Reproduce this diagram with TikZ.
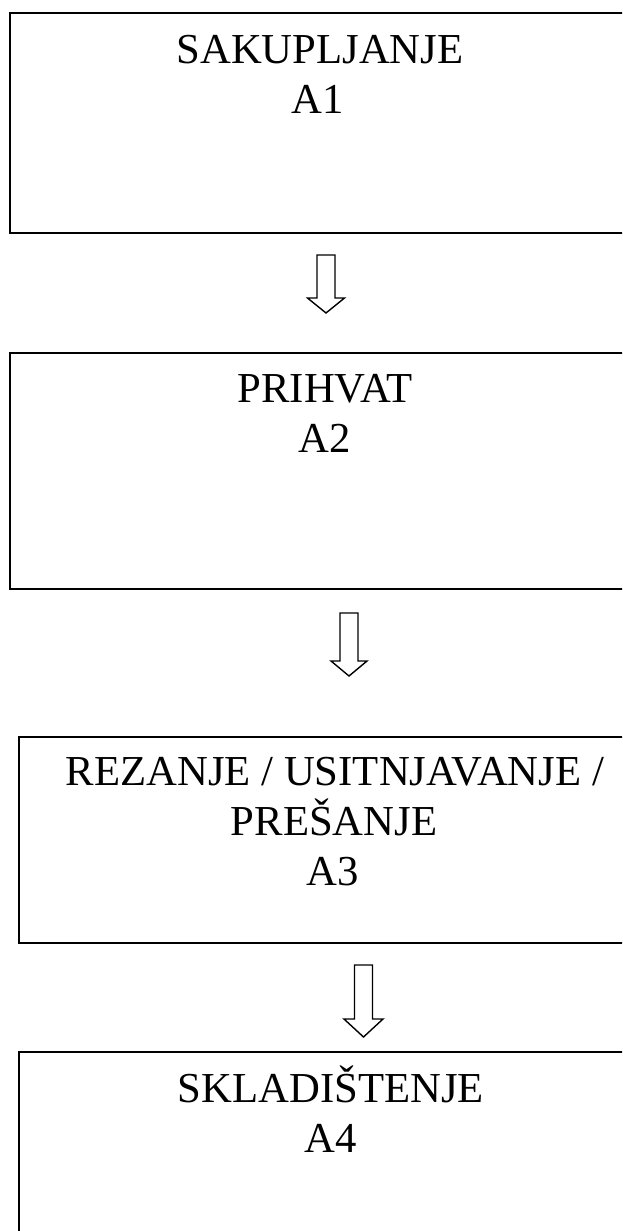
\documentclass[tikz,border=0pt]{standalone}
\usepackage{fontspec}
\setmainfont{Liberation Serif}
\begin{document}
\begin{tikzpicture}[
  x=0.5pt, y=-0.5pt,
  stagebox/.style={draw=black, line width=1pt},
  stagetext/.style={anchor=base, inner sep=0pt, font=\fontsize{21.35}{24}\selectfont},
  arrowline/.style={draw=black, line width=0.7pt, line join=miter},
  pics/blockarrow/.style args={#1/#2/#3}{code={
    \draw[arrowline] (-9,0) -- (9,0) -- (9,#1) -- (#3,#1) -- (0,#1+#2)
      -- (-#3,#1) -- (-9,#1) -- cycle;
  }}
]
\clip (0,0) rectangle (622,1231);
\fill[white] (0,0) rectangle (622,1231);

% process stages
\draw[stagebox] (9.5,13) rectangle (640,233);
\draw[stagebox] (9.5,353) rectangle (640,589);
\draw[stagebox] (19,737) rectangle (640,943);
\draw[stagebox] (19,1052) rectangle (640,1260);

\node[stagetext] (s1a) at (320,63)  {SAKUPLJANJE};
\node[stagetext] (s1b) at (318,113) {A1};

\node[stagetext] (s2a) at (325,402) {PRIHVAT};
\node[stagetext] (s2b) at (325,452) {A2};

\node[stagetext] (s3a) at (335,785) {REZANJE / USITNJAVANJE /};
\node[stagetext] (s3b) at (334,835) {PREŠANJE};
\node[stagetext] (s3c) at (333,885) {A3};

\node[stagetext] (s4a) at (331,1102) {SKLADIŠTENJE};
\node[stagetext] (s4b) at (331,1152) {A4};

% hollow flow arrows between stages
\coordinate (f1) at (326,255);
\coordinate (f2) at (349,613);
\coordinate (f3) at (363.5,965);
\pic at (f1) {blockarrow=43/15/18.5};
\pic at (f2) {blockarrow=48/15/18};
\pic at (f3) {blockarrow=54/18/19.5};
\end{tikzpicture}
\end{document}
